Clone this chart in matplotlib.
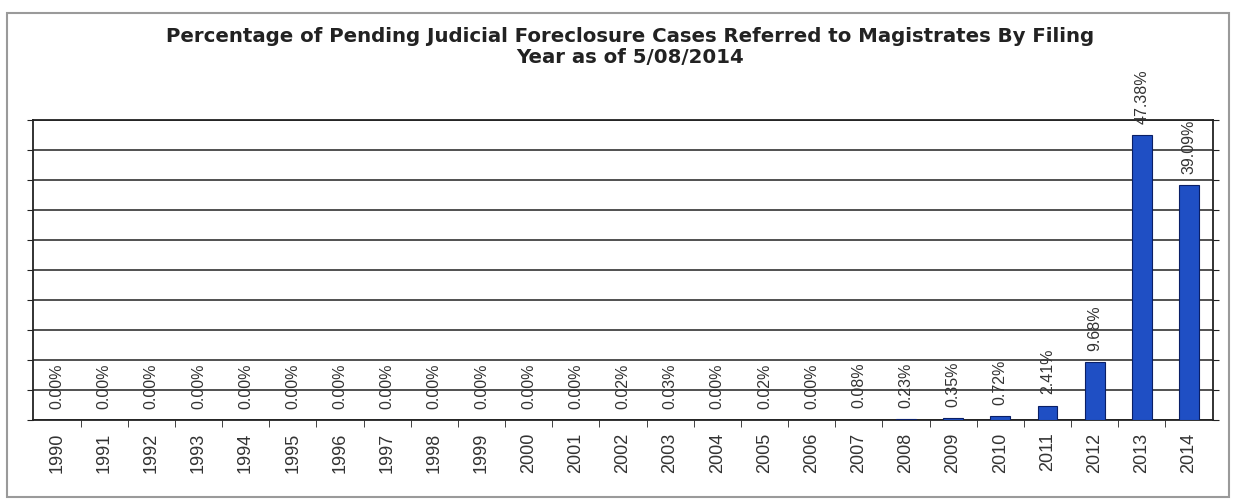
# -*- coding: utf-8 -*-
# bar chart: pending judicial foreclosure cases referred to magistrates, by filing year
import matplotlib.pyplot as plt
from matplotlib.patches import Rectangle

years = [str(y) for y in range(1990, 2015)]
pct = [0.00, 0.00, 0.00, 0.00, 0.00, 0.00, 0.00, 0.00, 0.00, 0.00,
       0.00, 0.00, 0.02, 0.03, 0.00, 0.02, 0.00, 0.08, 0.23, 0.35,
       0.72, 2.41, 9.68, 47.38, 39.09]
title = ('Percentage of Pending Judicial Foreclosure Cases Referred to Magistrates By Filing\n'
         'Year as of 5/08/2014')

plt.rcParams['font.family'] = ['Liberation Sans', 'DejaVu Sans']

fig = plt.figure(figsize=(12.36, 5.03), dpi=100)
fig.patches.append(Rectangle((0.006, 0.012), 0.988, 0.962, transform=fig.transFigure,
                             fill=False, edgecolor='#9a9a9a', linewidth=1.5))
ax = fig.add_axes([0.027, 0.165, 0.954, 0.597])

x = list(range(len(years)))
ax.bar(x, pct, width=0.42, color='#1f4fc4', edgecolor='#0a1f66', linewidth=0.8, zorder=3)

for i, v in enumerate(pct):
    ax.annotate('%.2f%%' % v, (i, v), xytext=(0, 8), textcoords='offset points',
                rotation=90, ha='center', va='bottom', fontsize=11.5, color='#333333')

ax.set_xlim(-0.5, len(years) - 0.5)
ax.set_ylim(0, 50)
ax.set_yticks(range(0, 51, 5))
ax.set_yticklabels([])
ax.yaxis.grid(True, color='#222222', linewidth=1.1, zorder=0)
ax.tick_params(axis='y', length=4, right=True, color='#222222')

ax.set_xticks(x)
ax.set_xticklabels(years, rotation=90, fontsize=13, color='#333333')
ax.tick_params(axis='x', which='major', length=0, pad=9)
ax.set_xticks([i + 0.5 for i in x[:-1]], minor=True)
ax.tick_params(axis='x', which='minor', length=5, color='#222222')

for s in ax.spines.values():
    s.set_color('#222222')
    s.set_linewidth(1.3)

fig.text(0.51, 0.907, title, ha='center', va='center', fontsize=14.2,
         family='DejaVu Sans', fontweight='bold', color='#222222', linespacing=1.15)

fig.savefig('out.png', dpi=100)
